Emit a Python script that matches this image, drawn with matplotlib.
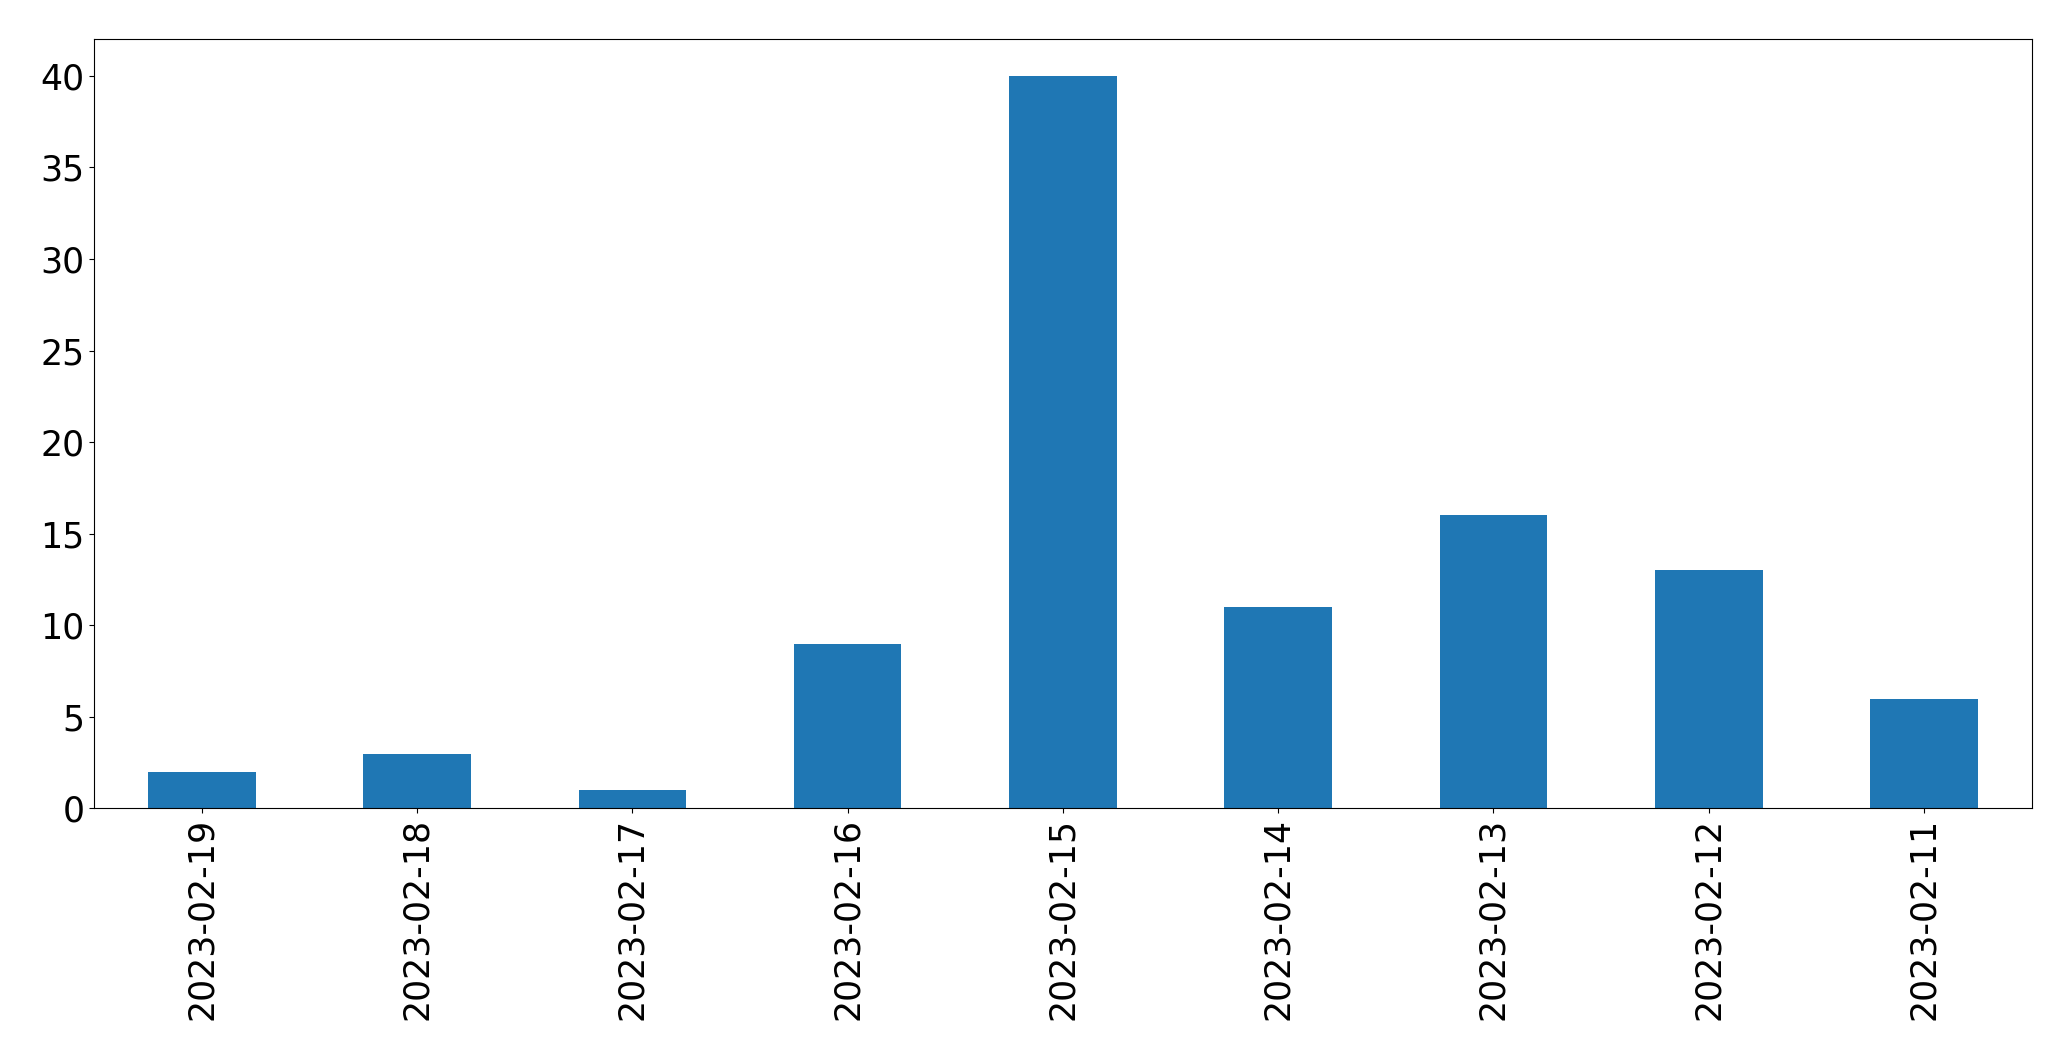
import matplotlib
matplotlib.use("Agg")
import matplotlib.pyplot as plt
import pandas as pd

dates = ['2023-02-19', '2023-02-18', '2023-02-17', '2023-02-16', '2023-02-15',
         '2023-02-14', '2023-02-13', '2023-02-12', '2023-02-11']
counts = [2, 3, 1, 9, 40, 11, 16, 13, 6]

plt.rcParams.update({'font.size': 25, 'xtick.labelsize': 25, 'ytick.labelsize': 25})

s = pd.Series(counts, index=dates)
fig, ax = plt.subplots(figsize=(20.71, 10.61), dpi=100)
s.plot(kind='bar', ax=ax, color='#1f77b4')
fig.subplots_adjust(left=0.0455, right=0.981, top=0.963, bottom=0.238)
fig.savefig('out.png', dpi=100)
